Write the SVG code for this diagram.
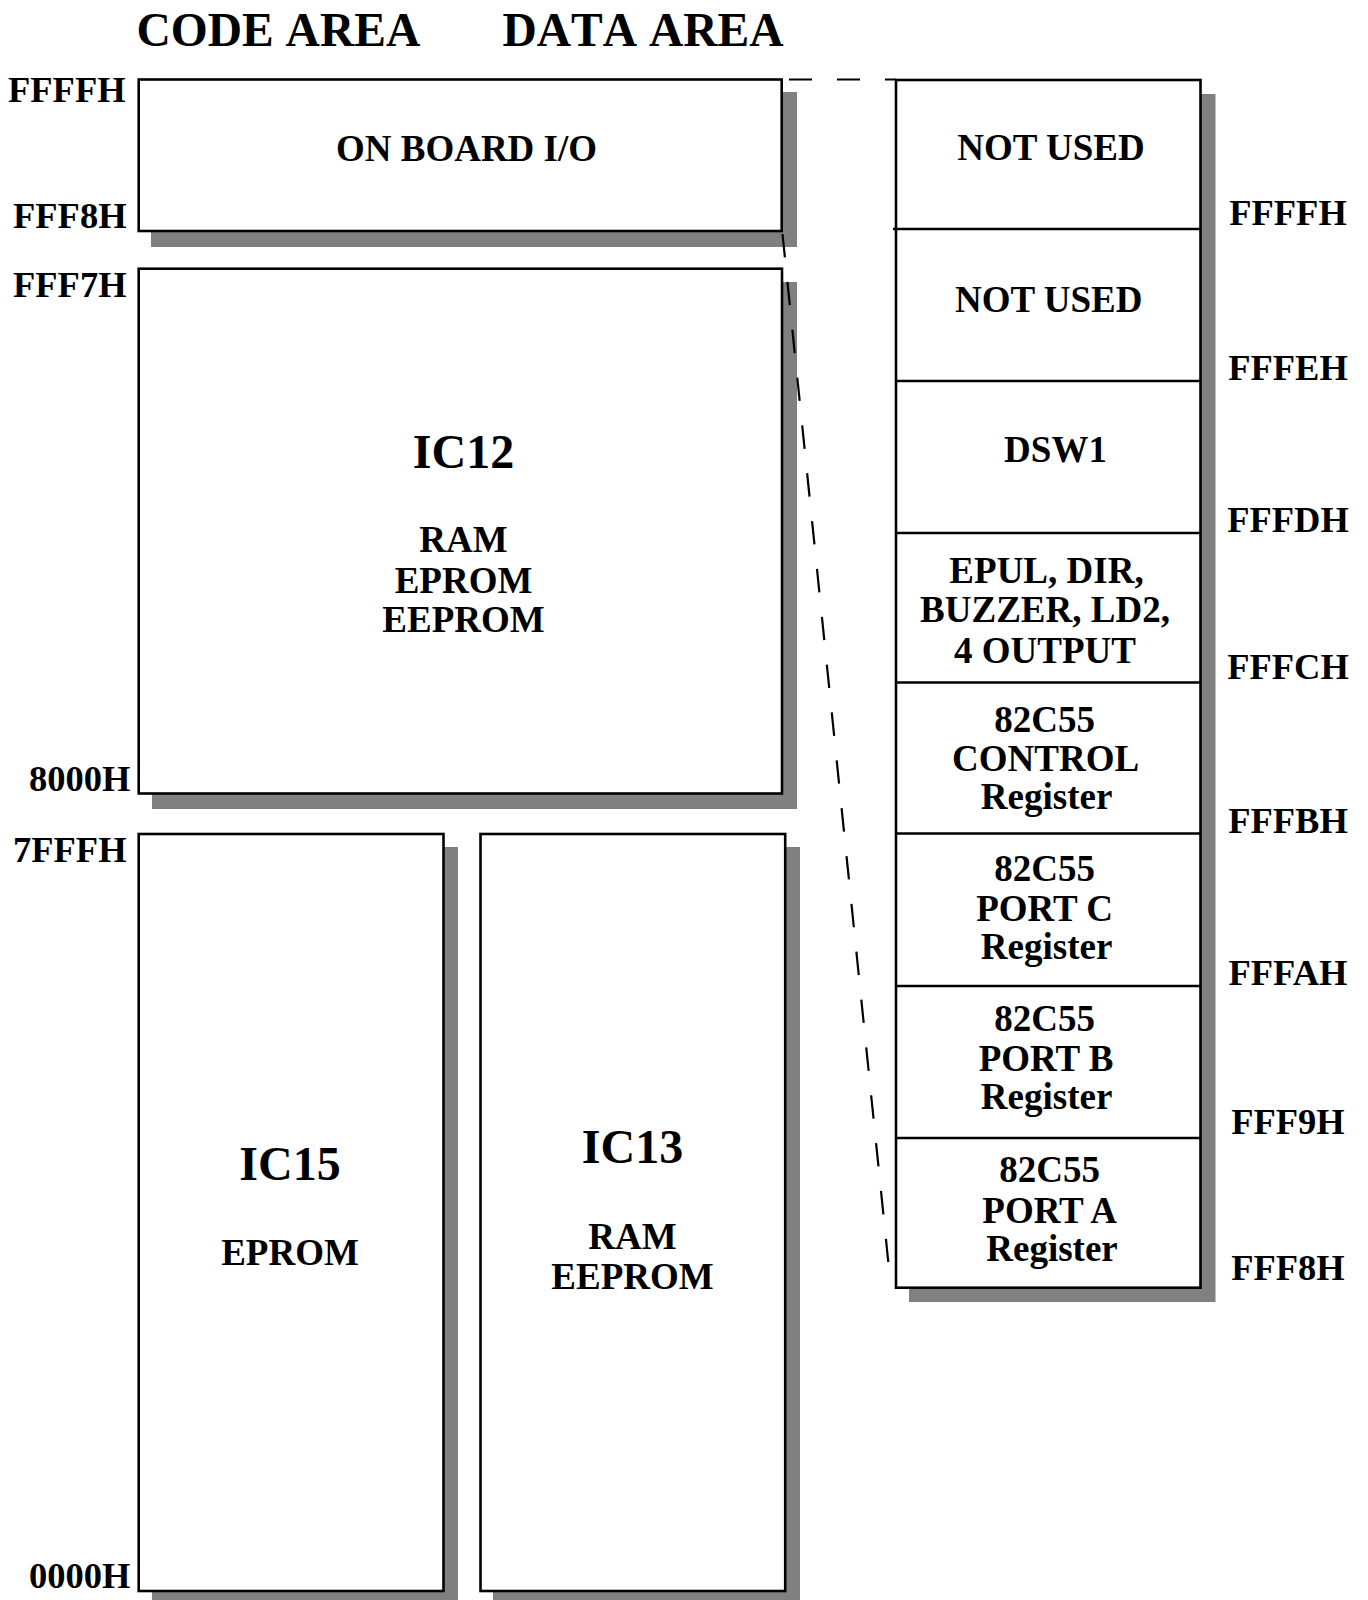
<svg xmlns="http://www.w3.org/2000/svg" width="1368" height="1600" viewBox="0 0 1368 1600">
<style>
.sh{fill:#808080;stroke:none}
.bx{fill:#fff;stroke:#000;stroke-width:2.6}
.dv{stroke:#000;stroke-width:2.6;fill:none}
text{font-family:"Liberation Serif","Times New Roman",serif;font-weight:bold;fill:#000}
.t{font-size:47.5px;font-kerning:none}
.ic{font-size:48px;text-anchor:middle}
.lb{font-size:37px;text-anchor:middle}
.ad{font-size:36.5px}
.ar{font-size:36.5px;text-anchor:middle}
.dash{stroke:#000;stroke-width:2.2;fill:none}
</style>
<rect width="1368" height="1600" fill="#fff"/>
<g id="titles">
<text class="t" x="136.5" y="46">CODE AREA</text>
<text class="t" x="502.5" y="46">DATA AREA</text>
</g>
<g id="code-addresses">
<text class="ad" x="8" y="101.5">FFFFH</text>
<text class="ad" x="13" y="228">FFF8H</text>
<text class="ad" x="13" y="297">FFF7H</text>
<text class="ad" x="29" y="790.5">8000H</text>
<text class="ad" x="13" y="861.5">7FFFH</text>
<text class="ad" x="29" y="1588">0000H</text>
</g>
<g id="onboard-io">
<rect class="sh" x="151" y="92" width="646" height="155"/>
<rect class="bx" x="138.7" y="79.5" width="643" height="151.5"/>
<text class="lb" x="466.5" y="161">ON BOARD I/O</text>
</g>
<g id="ic12">
<rect class="sh" x="152" y="282" width="645" height="527"/>
<rect class="bx" x="138.7" y="268.7" width="643.3" height="524.8"/>
<text class="ic" x="463.5" y="468">IC12</text>
<text class="lb" x="463.5" y="551.5">RAM</text>
<text class="lb" x="463.5" y="592.5">EPROM</text>
<text class="lb" x="463.5" y="631.5">EEPROM</text>
</g>
<g id="ic15">
<rect class="sh" x="152" y="847" width="306" height="760"/>
<rect class="bx" x="138.7" y="834" width="304.8" height="757"/>
<text class="ic" x="290" y="1179.5">IC15</text>
<text class="lb" x="290" y="1265">EPROM</text>
</g>
<g id="ic13">
<rect class="sh" x="493" y="847" width="307" height="760"/>
<rect class="bx" x="480.5" y="834" width="304.7" height="757"/>
<text class="ic" x="632.5" y="1163">IC13</text>
<text class="lb" x="632.5" y="1249">RAM</text>
<text class="lb" x="632.5" y="1289">EEPROM</text>
</g>
<g id="io-map">
<rect class="sh" x="909" y="94" width="306.5" height="1208"/>
<rect class="bx" x="896" y="80" width="304.5" height="1207.7"/>
<path class="dv" d="M893 229H1200M896 381H1200M896 533H1200M896 682.5H1200M896 833.5H1200M896 986H1200M896 1138H1200"/>
</g>
<g id="io-labels">
<text class="lb" x="1051" y="160">NOT USED</text>
<text class="lb" x="1048.7" y="311.5">NOT USED</text>
<text class="lb" x="1055.5" y="462">DSW1</text>
<text class="lb" x="1046.5" y="583">EPUL, DIR,</text>
<text class="lb" x="1045" y="622">BUZZER, LD2,</text>
<text class="lb" x="1045" y="662.5">4 OUTPUT</text>
<text class="lb" x="1044.6" y="731.5">82C55</text>
<text class="lb" x="1045.6" y="771">CONTROL</text>
<text class="lb" x="1046.6" y="809">Register</text>
<text class="lb" x="1044.6" y="881">82C55</text>
<text class="lb" x="1044.6" y="920.5">PORT C</text>
<text class="lb" x="1046.6" y="959">Register</text>
<text class="lb" x="1044.6" y="1031">82C55</text>
<text class="lb" x="1046" y="1070.5">PORT B</text>
<text class="lb" x="1046.6" y="1109">Register</text>
<text class="lb" x="1049.7" y="1182">82C55</text>
<text class="lb" x="1049.7" y="1222.5">PORT A</text>
<text class="lb" x="1052" y="1261">Register</text>
</g>
<g id="data-addresses">
<text class="ar" x="1288" y="225">FFFFH</text>
<text class="ar" x="1288" y="379.5">FFFEH</text>
<text class="ar" x="1288" y="531.5">FFFDH</text>
<text class="ar" x="1288" y="678.5">FFFCH</text>
<text class="ar" x="1288" y="832.5">FFFBH</text>
<text class="ar" x="1288" y="984.5">FFFAH</text>
<text class="ar" x="1288" y="1133.5">FFF9H</text>
<text class="ar" x="1288" y="1280">FFF8H</text>
</g>
<g id="connectors">
<line class="dash" x1="789" y1="79.5" x2="896" y2="79.5" stroke-dasharray="23 25"/>
<line class="dash" x1="782.5" y1="234" x2="888.3" y2="1262" stroke-dasharray="23.5 24.6"/>
</g>
</svg>
